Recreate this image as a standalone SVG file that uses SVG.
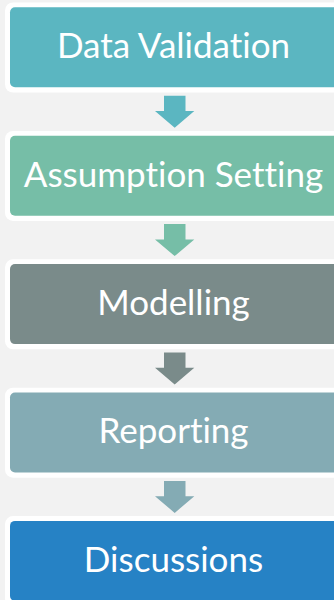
<svg xmlns="http://www.w3.org/2000/svg" width="334" height="600" viewBox="0 0 334 600">
<style>
.frame{fill:#ffffff}
.lbl{font-family:Lato,"Liberation Sans",sans-serif;font-size:35px;fill:#ffffff;text-anchor:middle;font-variant-ligatures:none;font-feature-settings:"liga" 0,"clig" 0,"dlig" 0}
</style>
<rect x="0" y="0" width="334" height="600" fill="#f2f2f2"/>
<g id="connectors">
<polygon fill="#5bb6c1" points="164,95.7 185.5,95.7 185.5,111 194.3,111 174.7,127.7 155,111 164,111"/>
<polygon fill="#76bea7" points="164,224.1 185.5,224.1 185.5,239.4 194.3,239.4 174.7,256.1 155,239.4 164,239.4"/>
<polygon fill="#7a8b8a" points="164,352.5 185.5,352.5 185.5,367.8 194.3,367.8 174.7,384.5 155,367.8 164,367.8"/>
<polygon fill="#84abb4" points="164,480.9 185.5,480.9 185.5,496.2 194.3,496.2 174.7,512.9 155,496.2 164,496.2"/>
</g>
<g id="node-data-validation">
<rect class="frame" x="5" y="2.5" width="345" height="90" rx="8"/>
<rect x="10" y="7.3" width="335" height="80" rx="5" fill="#5bb6c1"/>
<text class="lbl" x="173.5" y="58.1">Data Validation</text>
</g>
<g id="node-assumption-setting">
<rect class="frame" x="5" y="130.9" width="345" height="90" rx="8"/>
<rect x="10" y="135.7" width="335" height="80" rx="5" fill="#76bea7"/>
<text class="lbl" x="173.5" y="186.5">Assumption Setting</text>
</g>
<g id="node-modelling">
<rect class="frame" x="5" y="259.3" width="345" height="90" rx="8"/>
<rect x="10" y="264.1" width="335" height="80" rx="5" fill="#7a8b8a"/>
<text class="lbl" x="173.5" y="314.9">Modelling</text>
</g>
<g id="node-reporting">
<rect class="frame" x="5" y="387.7" width="345" height="90" rx="8"/>
<rect x="10" y="392.5" width="335" height="80" rx="5" fill="#84abb4"/>
<text class="lbl" x="173.5" y="443.3">Reporting</text>
</g>
<g id="node-discussions">
<rect class="frame" x="5" y="516.1" width="345" height="90" rx="8"/>
<rect x="10" y="520.9" width="335" height="80" rx="5" fill="#2682c5"/>
<text class="lbl" x="173.5" y="571.7">Discussions</text>
</g>
</svg>
